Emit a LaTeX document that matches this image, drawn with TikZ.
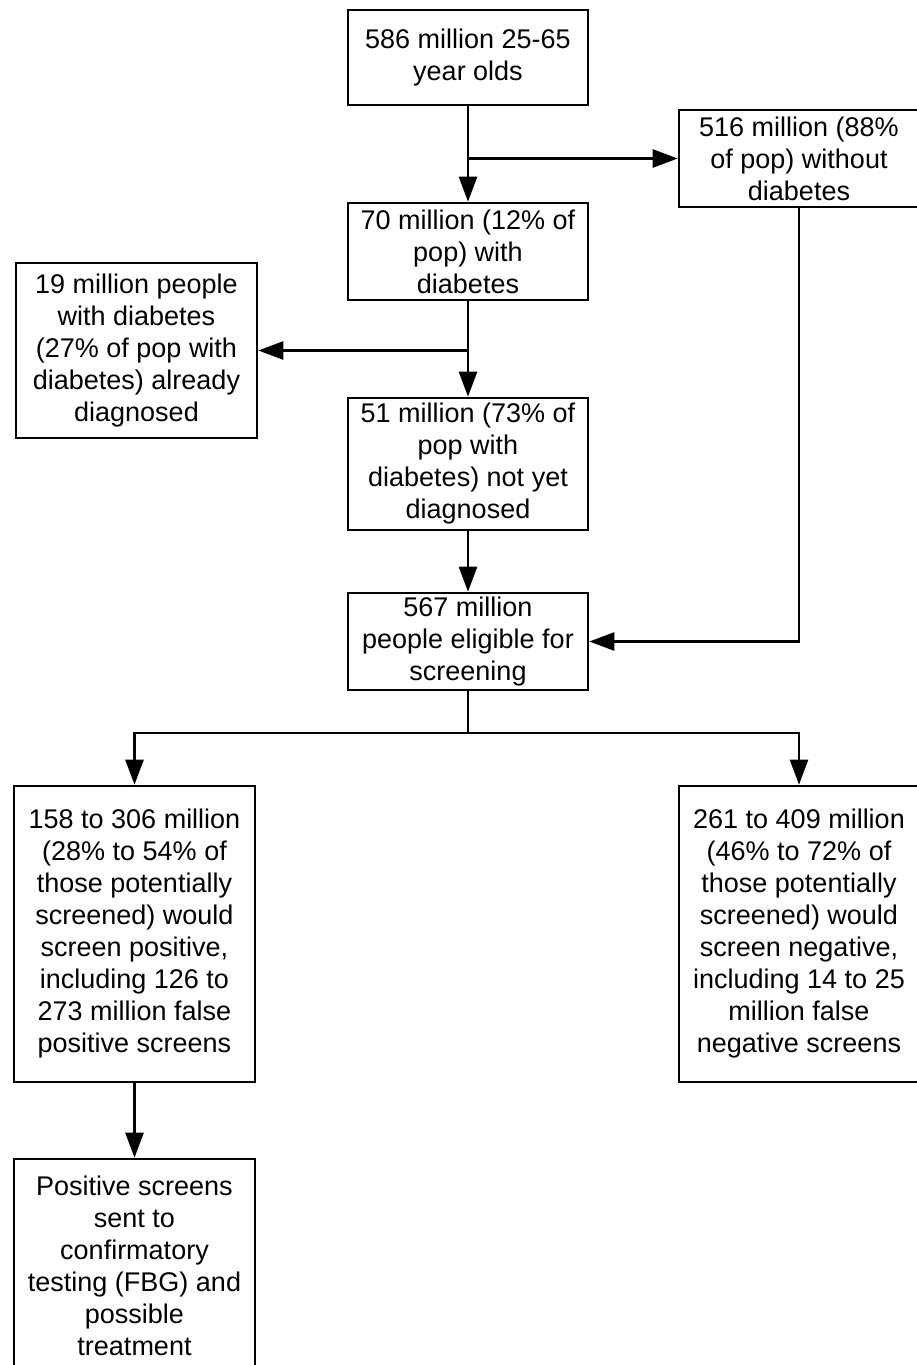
\documentclass[tikz,border=0pt]{standalone}
\usepackage{fontspec}
\setmainfont{Liberation Sans}
\usetikzlibrary{arrows.meta}

\begin{document}
\begin{tikzpicture}[x = 0.5pt, y = -0.5pt,
        flowbox/.style = {draw, rectangle, line width = 1.3pt, align = center, inner sep = 0pt, minimum width = 120pt, font = \fontsize{13.5}{16}\selectfont, execute at begin node = \vspace*{3pt}},
        flowarrow/.style = {->, > = {Triangle[length = 12.5pt, width = 9pt]}, line width = 1.3pt}]

        \useasboundingbox (0, 0) rectangle (916, 1365);

        % Population boxes
        \node [flowbox, minimum height = 47.5pt] (all) at (468, 57.5) {586 million 25-65\\year olds};
        \node [flowbox, minimum height = 48.5pt] (nodiab) at (799, 158.5) {516 million (88\%\\of pop) without\\diabetes};
        \node [flowbox, minimum height = 48.5pt] (diab) at (468, 251.5) {70 million (12\% of\\pop) with\\diabetes};
        \node [flowbox, minimum height = 87.5pt, minimum width = 120.5pt] (known) at (136.5, 350.5) {19 million people\\with diabetes\\(27\% of pop with\\diabetes) already\\diagnosed};
        \node [flowbox, minimum height = 66pt] (unknown) at (468, 464) {51 million (73\% of\\pop with\\diabetes) not yet\\diagnosed};
        \node [flowbox, minimum height = 48.5pt] (eligible) at (468, 641.5) {567 million\\people eligible for\\screening};

        % Screening outcomes
        \node [flowbox, minimum height = 148pt, minimum width = 120.5pt] (positive) at (134.5, 934) {158 to 306 million\\(28\% to 54\% of\\those potentially\\screened) would\\screen positive,\\including 126 to\\273 million false\\positive screens};
        \node [flowbox, minimum height = 148pt] (negative) at (799, 934) {261 to 409 million\\(46\% to 72\% of\\those potentially\\screened) would\\screen negative,\\including 14 to 25\\million false\\negative screens};
        \node [flowbox, minimum height = 107pt, minimum width = 120.5pt] (confirm) at (134.5, 1266) {Positive screens\\sent to\\confirmatory\\testing (FBG) and\\possible\\treatment};

        % Arrows
        \draw [flowarrow] (all) -- (diab);
        \draw [flowarrow] (all.south |- nodiab.west) -- (nodiab.west);
        \draw [flowarrow] (nodiab.south) |- (eligible.east);
        \draw [flowarrow] (diab) -- (unknown);
        \draw [flowarrow] (diab.south |- known.east) -- (known.east);
        \draw [flowarrow] (unknown) -- (eligible);

        \draw [line width = 1.3pt] (eligible.south) -- (468, 733) coordinate (fork);
        \draw [flowarrow] (fork) -| (positive);
        \draw [flowarrow] (fork) -| (negative);
        \draw [flowarrow] (positive) -- (confirm);

\end{tikzpicture}
\end{document}
